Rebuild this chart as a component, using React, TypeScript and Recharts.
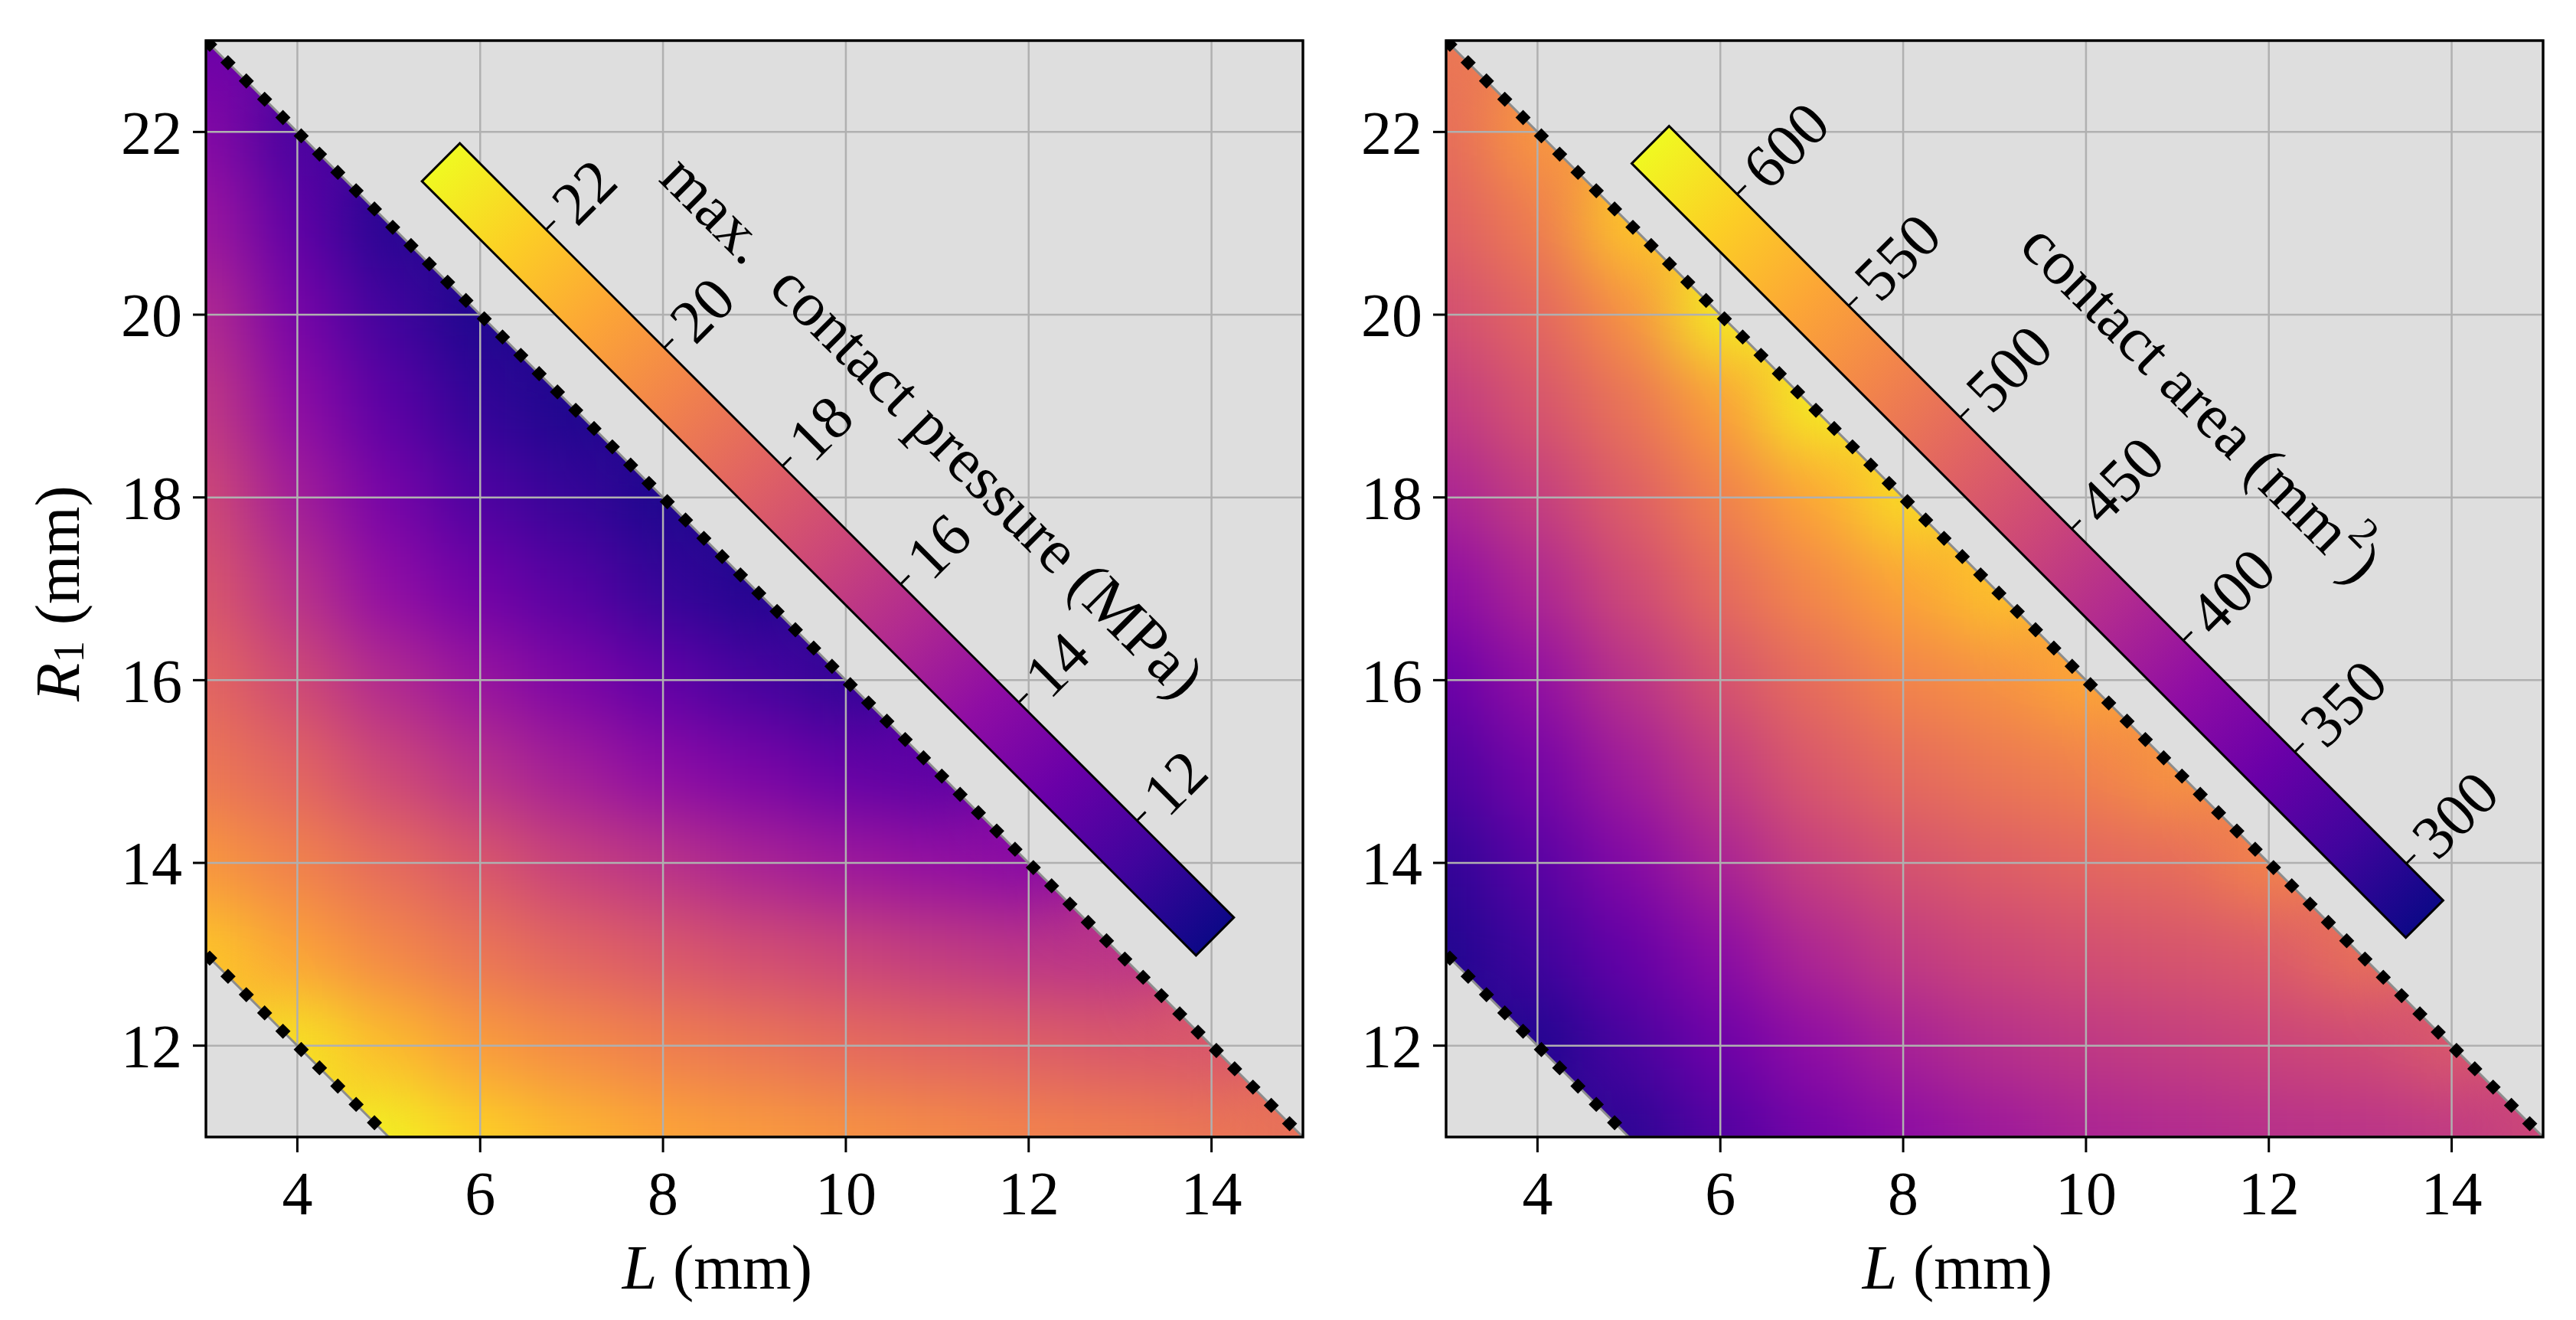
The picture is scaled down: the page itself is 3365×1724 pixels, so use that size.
import React from 'react';
import { ComposedChart, Scatter, Area, Line, XAxis, YAxis, CartesianGrid } from 'recharts';

const _ = null;

// grid of the sampled design space
const lengths = [3, 4, 5, 6, 7, 8, 9, 10, 11, 12, 13, 14, 15];
const radii = [23, 22, 21, 20, 19, 18, 17, 16, 15, 14, 13, 12, 11];
const xTicks = [4, 6, 8, 10, 12, 14];
const yTicks = [12, 14, 16, 18, 20, 22];

// max. contact pressure (MPa), rows R1 = 23 ... 11, columns L = 3 ... 15
const pressure = [
  [13.0],
  [13.9, 11.9],
  [14.7, 12.6, 11.0],
  [15.6, 13.4, 11.7, 10.8],
  [16.3, 14.2, 12.5, 11.3, 10.8],
  [17.0, 15.0, 13.4, 12.1, 11.4, 10.8],
  [17.6, 15.9, 14.3, 13.2, 12.3, 11.4, 10.9],
  [18.3, 17.0, 15.6, 14.6, 13.6, 12.7, 11.9, 11.3],
  [19.0, 18.2, 16.9, 15.9, 15.0, 14.2, 13.5, 12.8, 12.5],
  [20.2, 19.4, 18.5, 17.6, 16.6, 16.0, 15.3, 14.8, 14.4, 14.0],
  [21.9, 20.7, 19.7, 18.9, 18.2, 17.7, 17.2, 16.8, 16.4, 16.1, 16.0],
  [_, 22.8, 21.5, 20.4, 19.8, 19.3, 18.9, 18.5, 18.2, 18.0, 17.7, 17.6],
  [_, _, 23.2, 22.2, 21.4, 20.8, 20.4, 20.1, 19.8, 19.5, 19.3, 19.0, 18.7],
];

// contact area (mm^2), same layout
const area = [
  [513],
  [502, 547],
  [488, 519, 589],
  [467, 495, 540, 620],
  [443, 474, 509, 554, 620],
  [415, 447, 485, 523, 561, 606],
  [384, 419, 460, 499, 530, 558, 585],
  [353, 391, 433, 471, 502, 526, 540, 561],
  [329, 363, 405, 443, 478, 499, 513, 523, 544],
  [308, 339, 377, 415, 450, 471, 485, 495, 502, 526],
  [297, 318, 349, 384, 419, 443, 457, 467, 474, 481, 506],
  [_, 297, 325, 356, 388, 412, 429, 440, 447, 454, 460, 478],
  [_, _, 304, 332, 360, 384, 401, 415, 422, 429, 433, 440, 457],
];

const pressureRange = [10.36, 23.46];
const areaRange = [283.5, 630.5];
const pressureTicks = [12, 14, 16, 18, 20, 22];
const areaTicks = [300, 350, 400, 450, 500, 550, 600];

// feasibility limits (L + R1 = 26 and L + R1 = 16)
const upperEdge = [{ L: 3, R: 23 }, { L: 15, R: 11 }];
const lowerEdge = [{ L: 3, R: 13 }, { L: 5, R: 11 }];
const upperGap = [{ L: 3, lo: 23, hi: 23 }, { L: 15, lo: 11, hi: 23 }];
const lowerGap = [{ L: 3, lo: 11, hi: 13 }, { L: 5, lo: 11, hi: 11 }];

const plasma = ['#0d0887', '#41049d', '#6a00a8', '#8f0da4', '#b12a90', '#cc4778',
  '#e16462', '#f2844b', '#fca636', '#fcce25', '#f0f921'];

const FONT = '"Liberation Serif", "DejaVu Serif", serif';
const BG = '#dedede';
const GRID = '#b0b0b0';

const CHART_W = 1720;
const CHART_H = 1724;
const PLOT_X = 269;
const PLOT_Y = 53;
const PLOT_W = 1433;
const PLOT_H = 1432;
const bareMargin = { top: 53, left: 269, right: 18, bottom: 239 };
const axisMargin = { top: 23, left: 69, right: 18, bottom: 89 };

const hex = (c: string) => [1, 3, 5].map((i) => parseInt(c.slice(i, i + 2), 16));
function plasmaAt(t: number) {
  const p = Math.max(0, Math.min(1, t)) * 10;
  const i = Math.min(9, Math.floor(p));
  const f = p - i;
  const a = hex(plasma[i]);
  const b = hex(plasma[i + 1]);
  const m = a.map((v, k) => Math.round(v + (b[k] - v) * f));
  return `rgb(${m[0]},${m[1]},${m[2]})`;
}

function toCells(rows: (number | null)[][]) {
  const out: { L: number; R: number; v: number }[] = [];
  rows.forEach((row, i) => row.forEach((v, j) => {
    if (v !== null) out.push({ L: lengths[j], R: radii[i], v });
  }));
  return out;
}

const tickFont = { fontSize: 80, fontFamily: FONT, fill: '#000' };
const tickStroke = { stroke: '#000', strokeWidth: 3 };

function Panel({ left, rows, range }: { left: number; rows: (number | null)[][]; range: number[] }) {
  const cells = toCells(rows);
  const cw = PLOT_W / 12 + 1.5;
  const ch = PLOT_H / 12 + 1.5;
  const cell = (p: any) => (
    <rect x={p.cx - cw / 2} y={p.cy - ch / 2} width={cw} height={ch}
      fill={plasmaAt((p.payload.v - range[0]) / (range[1] - range[0]))} />
  );
  const layer = { position: 'absolute' as const, left: 0, top: 0 };
  return (
    <div style={{ position: 'absolute', left, top: 0, width: CHART_W, height: CHART_H }}>
      {/* heat map, smoothed by the svg filter */}
      <div style={layer}>
        <ComposedChart width={CHART_W} height={CHART_H} margin={bareMargin}>
          <CartesianGrid horizontal={false} vertical={false} fill={BG} />
          <XAxis type="number" dataKey="L" domain={[3, 15]} allowDataOverflow hide />
          <YAxis type="number" domain={[11, 23]} allowDataOverflow hide />
          <Scatter data={cells} dataKey="R" className="heat-smooth" shape={cell} isAnimationActive={false} />
        </ComposedChart>
      </div>
      {/* infeasible regions */}
      <div style={layer}>
        <ComposedChart width={CHART_W} height={CHART_H} margin={bareMargin}>
          <XAxis type="number" dataKey="L" domain={[3, 15]} allowDataOverflow hide />
          <YAxis type="number" domain={[11, 23]} allowDataOverflow hide />
          <Area data={upperGap} dataKey={(d: any) => [d.lo, d.hi]} type="linear" stroke="none" fill={BG} fillOpacity={1} isAnimationActive={false} />
          <Area data={lowerGap} dataKey={(d: any) => [d.lo, d.hi]} type="linear" stroke="none" fill={BG} fillOpacity={1} isAnimationActive={false} />
        </ComposedChart>
      </div>
      {/* grid, limits and axes */}
      <div style={layer}>
        <ComposedChart width={CHART_W} height={CHART_H} margin={axisMargin}>
          <CartesianGrid stroke={GRID} strokeWidth={2.5} />
          <XAxis type="number" dataKey="L" domain={[3, 15]} ticks={xTicks} allowDataOverflow height={150}
            tickSize={20} tickMargin={24} tick={tickFont} axisLine={false} tickLine={tickStroke} />
          <XAxis xAxisId="top" orientation="top" type="number" dataKey="L" domain={[3, 15]} ticks={xTicks}
            allowDataOverflow height={30} tickSize={17} tick={false} axisLine={false} tickLine={tickStroke} />
          <YAxis type="number" domain={[11, 23]} ticks={yTicks} allowDataOverflow width={200}
            tickSize={17} tickMargin={14} tick={tickFont} axisLine={false} tickLine={tickStroke} />
          <Line data={upperEdge} dataKey="R" name="edge-up" stroke="#8c8c8c" strokeWidth={3} dot={false} isAnimationActive={false} />
          <Line data={lowerEdge} dataKey="R" name="edge-low" stroke="#8c8c8c" strokeWidth={3} dot={false} isAnimationActive={false} />
          <Line data={upperEdge} dataKey="R" name="limit-up" stroke="#000" strokeWidth={14} strokeDasharray="14 19.8" dot={false} isAnimationActive={false} />
          <Line data={lowerEdge} dataKey="R" name="limit-low" stroke="#000" strokeWidth={14} strokeDasharray="14 19.8" dot={false} isAnimationActive={false} />
        </ComposedChart>
      </div>
    </div>
  );
}

function ColorBar({ id, cx, cy, len, thick, range, ticks, title, titleAt }: any) {
  const [vmin, vmax] = range;
  const pos = (v: number) => -len / 2 + ((vmax - v) / (vmax - vmin)) * len;
  return (
    <g transform={`translate(${cx},${cy}) rotate(45)`}>
      <defs>
        <linearGradient id={id} x1="0" y1="0" x2="1" y2="0">
          {plasma.map((c, i) => <stop key={i} offset={1 - i / 10} stopColor={c} />).reverse()}
        </linearGradient>
      </defs>
      <rect x={-len / 2} y={-thick / 2} width={len} height={thick} fill={`url(#${id})`} stroke="#000" strokeWidth={3} />
      {ticks.map((v: number) => (
        <g key={v}>
          <line x1={pos(v)} x2={pos(v)} y1={-thick / 2} y2={-thick / 2 - 16} stroke="#000" strokeWidth={3} />
          <text transform={`translate(${pos(v)},${-thick / 2 - 30}) rotate(-90)`} textAnchor="start"
            dominantBaseline="central" fontSize={80}>{v}</text>
        </g>
      ))}
      <text x={titleAt[0]} y={titleAt[1]} textAnchor="middle" dominantBaseline="central" fontSize={82}>{title}</text>
    </g>
  );
}

export default function App() {
  return (
    <div style={{ position: 'absolute', left: 0, top: 0, width: 3365, height: 1724, background: '#fff', overflow: 'hidden', fontFamily: FONT }}>
      <style>{'.heat-smooth { filter: url(#heatSmooth); }'}</style>
      <svg width={0} height={0} style={{ position: 'absolute' }}>
        <defs>
          <filter id="heatSmooth" x="-20%" y="-20%" width="140%" height="140%" colorInterpolationFilters="sRGB">
            <feGaussianBlur stdDeviation="42" />
            <feComponentTransfer>
              <feFuncA type="linear" slope="30" intercept="0" />
            </feComponentTransfer>
          </filter>
        </defs>
      </svg>
      <Panel left={0} rows={pressure} range={pressureRange} />
      <Panel left={1620} rows={area} range={areaRange} />
      <svg width={3365} height={1724} style={{ position: 'absolute', left: 0, top: 0, pointerEvents: 'none' }} fontFamily={FONT}>
        <rect x={PLOT_X} y={PLOT_Y} width={PLOT_W} height={PLOT_H} fill="none" stroke="#000" strokeWidth={3.4} />
        <rect x={PLOT_X + 1620} y={PLOT_Y} width={PLOT_W} height={PLOT_H} fill="none" stroke="#000" strokeWidth={3.4} />
        <ColorBar id="cbP" cx={1081.5} cy={717.5} len={1430} thick={70} range={pressureRange} ticks={pressureTicks}
          title={'max.\u00a0 contact pressure (MPa)'} titleAt={[-17, -211]} />
        <ColorBar id="cbA" cx={2661.5} cy={694.7} len={1430} thick={69} range={areaRange} ticks={areaTicks}
          title={<>contact area (mm<tspan dy={-30} fontSize={56}>2</tspan><tspan dy={30}>)</tspan></>} titleAt={[32, -271]} />
        <text x={937} y={1655} textAnchor="middle" dominantBaseline="central" fontSize={82}>
          <tspan fontStyle="italic">L</tspan> (mm)
        </text>
        <text x={2557} y={1655} textAnchor="middle" dominantBaseline="central" fontSize={82}>
          <tspan fontStyle="italic">L</tspan> (mm)
        </text>
        <text transform="translate(75,775) rotate(-90)" textAnchor="middle" dominantBaseline="central" fontSize={82}>
          <tspan fontStyle="italic">R</tspan><tspan fontSize={58} dy={14}>1</tspan><tspan dy={-14}> (mm)</tspan>
        </text>
      </svg>
    </div>
  );
}
